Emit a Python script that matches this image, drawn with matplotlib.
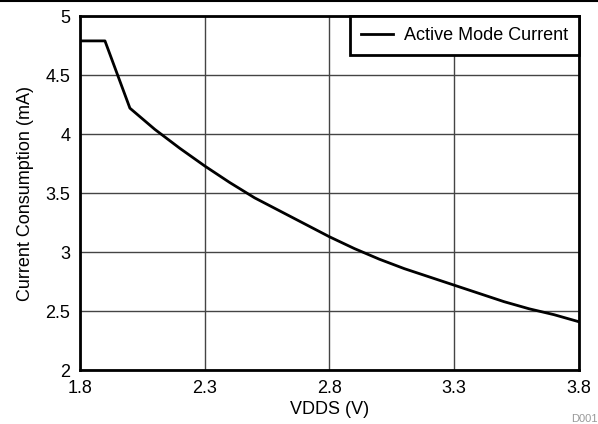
import matplotlib
matplotlib.use("Agg")
import matplotlib.pyplot as plt
from matplotlib.lines import Line2D

vdds = [1.8, 1.9, 2.0, 2.1, 2.2, 2.3, 2.4, 2.5, 2.6, 2.7, 2.8, 2.9, 3.0, 3.1, 3.2, 3.3, 3.4, 3.5, 3.6, 3.7, 3.8]
current = [4.79, 4.79, 4.22, 4.04, 3.88, 3.73, 3.59, 3.46, 3.35, 3.24, 3.13, 3.03, 2.94, 2.86, 2.79, 2.72, 2.65, 2.58, 2.52, 2.47, 2.41]
xticks = [1.8, 2.3, 2.8, 3.3, 3.8]
yticks = [2, 2.5, 3, 3.5, 4, 4.5, 5]
ytick_labels = ["2", "2.5", "3", "3.5", "4", "4.5", "5"]

plt.rcParams['font.family'] = ['Liberation Sans', 'DejaVu Sans']

fig = plt.figure(figsize=(5.98, 4.24), dpi=100)
ax = fig.add_axes([0.1338, 0.127, 0.8344, 0.835])

ax.plot(vdds, current, color='black', lw=2, label='Active Mode Current')

ax.set_xlim(1.8, 3.8)
ax.set_ylim(2, 5)
ax.set_xticks(xticks)
ax.set_xticklabels([str(t) for t in xticks])
ax.set_yticks(yticks)
ax.set_yticklabels(ytick_labels)
ax.tick_params(length=0, labelsize=13, pad=7)
ax.grid(True, color='#444444', lw=1)
ax.set_axisbelow(True)
for s in ax.spines.values():
    s.set_linewidth(2)

ax.set_xlabel('VDDS (V)', fontsize=13, labelpad=3)
ax.set_ylabel('Current Consumption (mA)', fontsize=13, labelpad=8)

leg = ax.legend(loc='upper right', bbox_to_anchor=(1, 1), borderaxespad=0,
                fancybox=False, framealpha=1, edgecolor='black', fontsize=13,
                handlelength=1.8, handletextpad=0.6, borderpad=0.6)
leg.get_frame().set_linewidth(2)

# rule across the top of the figure
fig.add_artist(Line2D([0, 1], [0.998, 0.998], transform=fig.transFigure, color='black', lw=1.5))
fig.text(0.999, 0.0, 'D001', color='#999999', fontsize=8, ha='right', va='bottom')

fig.savefig('out.png', dpi=100)
